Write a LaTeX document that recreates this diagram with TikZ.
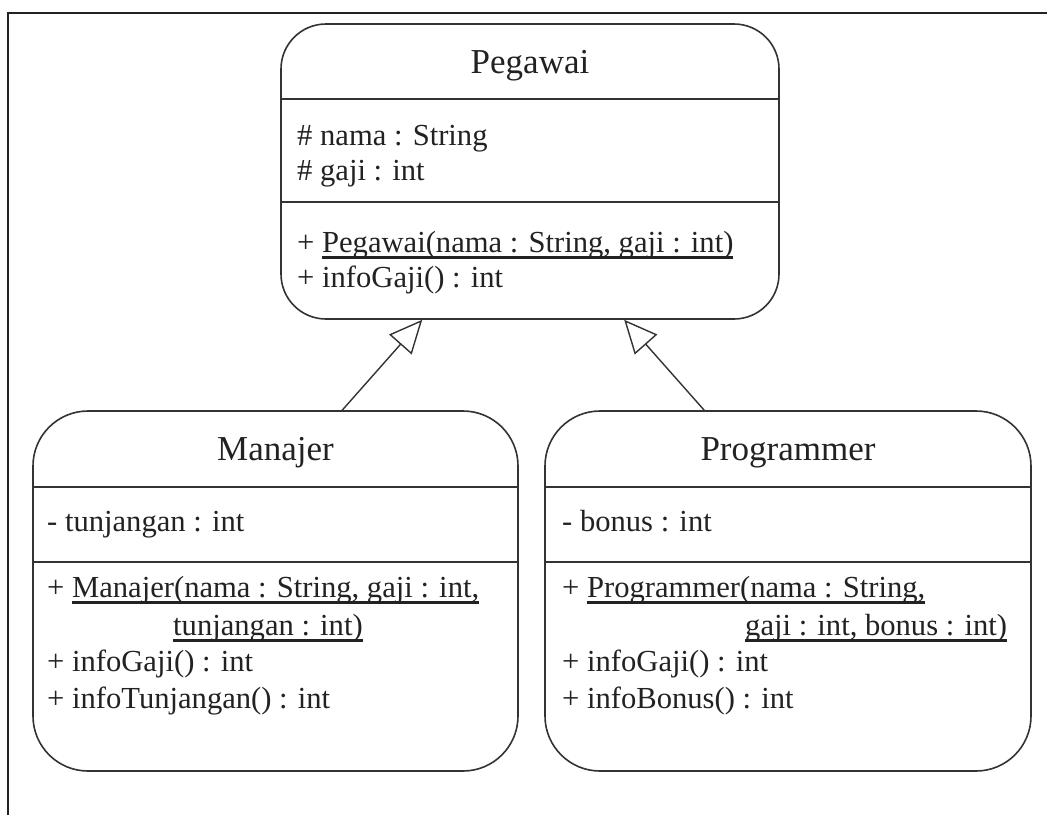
\documentclass[tikz,border=0pt]{standalone}
\usepackage{fontspec}
\setmainfont{Liberation Serif}
\usetikzlibrary{arrows.meta}
\definecolor{ink}{HTML}{222222}
\definecolor{edge}{HTML}{333333}
\newcommand{\myul}[1]{\setbox0\hbox{#1}\rlap{\vrule width\wd0 height -4.2pt depth 6.6pt}\box0}
\tikzset{
  classbox/.style={draw=edge, line width=1.6pt, inner sep=0pt, fill=none},
  divider/.style={draw=edge, line width=1.6pt},
  title/.style={inner sep=0pt, anchor=base, text=ink, font=\fontsize{35}{40}\selectfont},
  member/.style={inner sep=0pt, anchor=base west, text=ink, font=\fontsize{30.6}{36}\selectfont},
  gen/.style={draw=edge, line width=1.4pt, -{Triangle[open, length=33pt, width=30pt, fill=white]}},
  frameline/.style={draw=ink, line width=2.2pt}
}
\begin{document}
\begin{tikzpicture}[x=1pt, y=-1pt]
\useasboundingbox (0,0) rectangle (1047,815);
\fill[white] (0,0) rectangle (1047,815);
% frame
\coordinate (fr1) at (8,815);
\coordinate (fr2) at (8,13);
\coordinate (fr3) at (1047,13);
\draw[frameline] (fr1) -- (fr2) -- (fr3);

% Pegawai
\node[classbox, rounded corners=45pt, minimum width=498pt, minimum height=295pt] (peg) at (530,171.5) {};
\draw[divider] (peg.west |- 0,99) -- (peg.east |- 0,99);
\draw[divider] (peg.west |- 0,202) -- (peg.east |- 0,202);
\node[title] (pegT) at (530,73) {Pegawai};
\node[member] (pegA1) at (297,145) {\# nama : String};
\node[member] (pegA2) at (297,180) {\# gaji : int};
\node[member] (pegO1) at (297,252) {+ \myul{Pegawai(nama : String, gaji : int)}};
\node[member] (pegO2) at (297,287) {+ infoGaji() : int};

% Manajer
\node[classbox, rounded corners=55pt, minimum width=485pt, minimum height=360pt] (man) at (275.5,591) {};
\draw[divider] (man.west |- 0,487) -- (man.east |- 0,487);
\draw[divider] (man.west |- 0,562) -- (man.east |- 0,562);
\node[title] (manT) at (275.5,460) {Manajer};
\node[member] (manA1) at (47,531) {- tunjangan : int};
\node[member] (manO1) at (47,597) {+ \myul{Manajer(nama : String, gaji : int,}};
\node[member] (manO1b) at (173,635) {\myul{tunjangan : int)}};
\node[member] (manO2) at (47,671) {+ infoGaji() : int};
\node[member] (manO3) at (47,708) {+ infoTunjangan() : int};

% Programmer
\node[classbox, rounded corners=55pt, minimum width=486pt, minimum height=360pt] (prog) at (788,591) {};
\draw[divider] (prog.west |- 0,487) -- (prog.east |- 0,487);
\draw[divider] (prog.west |- 0,562) -- (prog.east |- 0,562);
\node[title] (progT) at (788,460) {Programmer};
\node[member] (progA1) at (562,531) {- bonus : int};
\node[member] (progO1) at (562,597) {+ \myul{Programmer(nama : String,}};
\node[member] (progO1b) at (745,635) {\myul{gaji : int, bonus : int)}};
\node[member] (progO2) at (562,671) {+ infoGaji() : int};
\node[member] (progO3) at (562,708) {+ infoBonus() : int};

% generalisations
\draw[gen] ([xshift=310pt]man.north west) -- ([xshift=142pt]peg.south west);
\draw[gen] ([xshift=160pt]prog.north west) -- ([xshift=344pt]peg.south west);
\end{tikzpicture}
\end{document}
